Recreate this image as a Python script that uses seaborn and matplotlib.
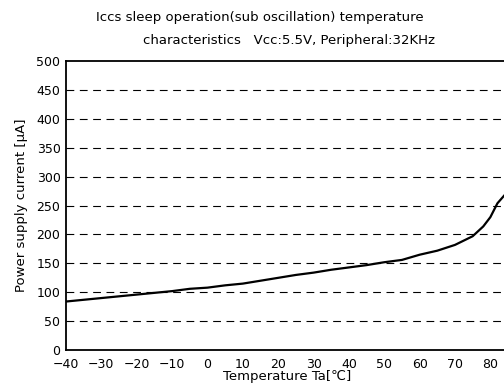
import matplotlib
matplotlib.use("Agg")
import matplotlib.pyplot as plt
import seaborn as sns
import pandas as pd

# values
temperature = [-40, -35, -30, -25, -20, -15, -10, -5, 0, 5, 10, 15, 20, 25,
               30, 35, 40, 45, 50, 55, 60, 65, 70, 75, 78, 80, 82, 84, 86]
current = [84, 87, 90, 93, 96, 99, 102, 106, 108, 112, 115, 120, 125, 130,
           134, 139, 143, 147, 152, 156, 165, 172, 182, 197, 214, 230, 254, 268, 280]

x_ticks = [-40, -30, -20, -10, 0, 10, 20, 30, 40, 50, 60, 70, 80]
y_ticks = [0, 50, 100, 150, 200, 250, 300, 350, 400, 450, 500]

sns.set_style("white")
plt.rcParams['font.family'] = ['DejaVu Sans']
plt.rcParams['text.color'] = 'black'
plt.rcParams['axes.labelcolor'] = 'black'
plt.rcParams['xtick.color'] = 'black'
plt.rcParams['ytick.color'] = 'black'

df = pd.DataFrame({'temp': temperature, 'icc': current})

fig = plt.figure(figsize=(5.04, 3.92), dpi=100)
# axes runs a little past the right edge, as in the source image
ax = fig.add_axes([0.131, 0.107, 0.877, 0.737])

sns.lineplot(data=df, x='temp', y='icc', ax=ax, color='black', linewidth=1.6)

ax.set_xlim(-40, 85)
ax.set_ylim(0, 500)
ax.set_xticks(x_ticks)
ax.set_yticks(y_ticks)
ax.set_xticklabels([str(t).replace('-', '\u2212') for t in x_ticks], fontsize=9)
ax.set_yticklabels([str(t) for t in y_ticks], fontsize=9)
ax.tick_params(axis='x', direction='in', length=4, width=1, pad=6)
ax.tick_params(axis='y', direction='in', length=0, pad=4)

for v in y_ticks[1:-1]:
    ax.axhline(v, color='black', linewidth=0.8, linestyle=(0, (7, 5)), zorder=0)

for side in ['left', 'bottom', 'top']:
    ax.spines[side].set_color('black')
    ax.spines[side].set_linewidth(1.3)
ax.spines['right'].set_visible(False)

ax.set_xlabel('Temperature Ta[\u2103]', fontsize=9.5, labelpad=-1)
ax.set_ylabel('Power supply current [\u03bcA]', fontsize=9.5, labelpad=6)

fig.text(0.516, 0.955, 'Iccs sleep operation(sub oscillation) temperature',
         ha='center', va='center', fontsize=9.5)
fig.text(0.573, 0.897, 'characteristics   Vcc:5.5V, Peripheral:32KHz',
         ha='center', va='center', fontsize=9.5)

fig.savefig('out.png', dpi=100)
